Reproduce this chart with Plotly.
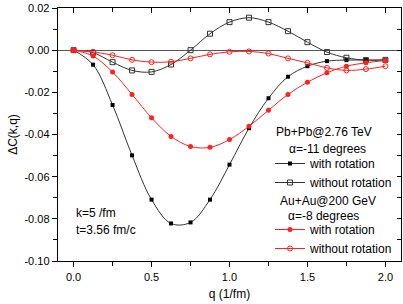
import plotly.graph_objects as go

q = [0, 0.125, 0.25, 0.375, 0.5, 0.625, 0.75, 0.875, 1.0, 1.125, 1.25, 1.375, 1.5, 1.625, 1.75, 1.875, 2.0]

pb_with = [0, -0.0069, -0.026, -0.0499, -0.0709, -0.0822, -0.0817, -0.0709, -0.0543, -0.037, -0.0228,
           -0.0126, -0.0076, -0.0052, -0.0047, -0.0047, -0.0047]
pb_without = [0, -0.0012, -0.0057, -0.0096, -0.0103, -0.0068, 0.0, 0.0078, 0.0133, 0.0154, 0.0133,
              0.0090, 0.0038, -0.0009, -0.0036, -0.0047, -0.0046]
au_with = [0, -0.0028, -0.0104, -0.021, -0.0321, -0.0409, -0.0457, -0.0461, -0.0424, -0.0361, -0.0285,
           -0.021, -0.0152, -0.0107, -0.0076, -0.006, -0.0049]
au_without = [0, -0.0008, -0.0024, -0.0046, -0.0057, -0.0055, -0.0039, -0.002, -0.0008, -0.0006, -0.0016,
              -0.0039, -0.006, -0.0084, -0.0096, -0.009, -0.0076]

x_tickvals = [0.0, 0.5, 1.0, 1.5, 2.0]
x_ticktext = ["0.0", "0.5", "1.0", "1.5", "2.0"]
y_tickvals = [0.02, 0.0, -0.02, -0.04, -0.06, -0.08, -0.10]
y_ticktext = ["0.02", "0.00", "-0.02", "-0.04", "-0.06", "-0.08", "-0.10"]

FONT = "Liberation Sans, Arial, sans-serif"
BLACK = "#333333"
RED = "#ff2020"

fig = go.Figure()

fig.add_trace(go.Scatter(
    x=q, y=pb_with, mode="lines+markers", name="with rotation", legend="legend",
    line=dict(color=BLACK, width=1, shape="spline", smoothing=1),
    marker=dict(symbol="square", size=4, color="black", line=dict(width=0))))
fig.add_trace(go.Scatter(
    x=q, y=pb_without, mode="lines+markers", name="without rotation", legend="legend",
    line=dict(color=BLACK, width=1, shape="spline", smoothing=1),
    marker=dict(symbol="square-open", size=5, color=BLACK, line=dict(width=1))))
fig.add_trace(go.Scatter(
    x=q, y=au_with, mode="lines+markers", name="with rotation", legend="legend2",
    line=dict(color=RED, width=1, shape="spline", smoothing=1),
    marker=dict(symbol="circle", size=5, color=RED, line=dict(width=0))))
fig.add_trace(go.Scatter(
    x=q, y=au_without, mode="lines+markers", name="without rotation", legend="legend2",
    line=dict(color=RED, width=1, shape="spline", smoothing=1),
    marker=dict(symbol="circle-open", size=5, color=RED, line=dict(width=1))))

# invisible trace to activate the mirrored (top/right) axes with inward ticks
fig.add_trace(go.Scatter(x=[q[0]], y=[pb_with[0]], xaxis="x2", yaxis="y2", mode="markers",
                         marker=dict(opacity=0), showlegend=False, hoverinfo="skip"))

axis_common = dict(showgrid=False, linecolor="black", linewidth=1.3, showline=True,
                   tickfont=dict(family=FONT, size=11, color="black"), tickcolor="black")

def px_to_paper_y(py):
    return 1 - (py - 8) / 253.0

def px_to_paper_x(px):
    return (px - 58) / 343.0

fig.update_layout(
    width=403, height=304, autosize=False,
    margin=dict(l=58, r=2, t=8, b=43),
    paper_bgcolor="white", plot_bgcolor="white",
    font=dict(family=FONT, size=12, color="black"),
    hovermode=False,
    xaxis=dict(range=[-0.1, 2.1], tickvals=x_tickvals, ticktext=x_ticktext, ticks="outside",
               ticklen=5, tickwidth=1, mirror=True, zeroline=False,
               minor=dict(dtick=0.25, tick0=0, ticks="outside", ticklen=4, tickcolor="black"),
               title=dict(text="q (1/fm)", font=dict(family=FONT, size=12), standoff=8),
               **axis_common),
    yaxis=dict(range=[-0.10, 0.02], tickvals=y_tickvals, ticktext=y_ticktext, ticks="outside",
               ticklen=5, tickwidth=1, mirror=True,
               zeroline=True, zerolinecolor="#555555", zerolinewidth=1,
               minor=dict(dtick=0.01, tick0=0, ticks="outside", ticklen=4, tickcolor="black"),
               title=dict(text="ΔC(k,q)", font=dict(family=FONT, size=12), standoff=4),
               **axis_common),
    xaxis2=dict(overlaying="x", side="top", matches="x", showticklabels=False, showline=False,
                showgrid=False, zeroline=False, ticks="inside", ticklen=5, tickcolor="black",
                tickvals=x_tickvals,
                minor=dict(dtick=0.25, tick0=0, ticks="inside", ticklen=4, tickcolor="black")),
    yaxis2=dict(overlaying="y", side="right", matches="y", showticklabels=False, showline=False,
                showgrid=False, zeroline=False, ticks="inside", ticklen=4, tickcolor="black",
                tickvals=y_tickvals,
                minor=dict(dtick=0.01, tick0=0, ticks="inside", ticklen=4, tickcolor="black")),
    legend=dict(x=px_to_paper_x(270), y=px_to_paper_y(149), xanchor="left", yanchor="top",
                bgcolor="rgba(0,0,0,0)", borderwidth=0, itemwidth=30,
                font=dict(family=FONT, size=12)),
    legend2=dict(x=px_to_paper_x(270), y=px_to_paper_y(215), xanchor="left", yanchor="top",
                 bgcolor="rgba(0,0,0,0)", borderwidth=0, itemwidth=30,
                 font=dict(family=FONT, size=12)),
    annotations=[
        dict(x=0, y=-0.0771, xref="x", yref="y", text="k=5 /fm", showarrow=False,
             xanchor="left", yanchor="middle", font=dict(family=FONT, size=12)),
        dict(x=0, y=-0.0852, xref="x", yref="y", text="t=3.56 fm/c", showarrow=False,
             xanchor="left", yanchor="middle", font=dict(family=FONT, size=12)),
        dict(x=px_to_paper_x(324), y=px_to_paper_y(132), xref="paper", yref="paper",
             text="Pb+Pb@2.76 TeV", showarrow=False, xanchor="center", yanchor="middle",
             font=dict(family=FONT, size=12)),
        dict(x=px_to_paper_x(327), y=px_to_paper_y(149), xref="paper", yref="paper",
             text="α=-11 degrees", showarrow=False, xanchor="center", yanchor="middle",
             font=dict(family=FONT, size=12)),
        dict(x=px_to_paper_x(328), y=px_to_paper_y(201), xref="paper", yref="paper",
             text="Au+Au@200 GeV", showarrow=False, xanchor="center", yanchor="middle",
             font=dict(family=FONT, size=12)),
        dict(x=px_to_paper_x(323), y=px_to_paper_y(216), xref="paper", yref="paper",
             text="α=-8 degrees", showarrow=False, xanchor="center", yanchor="middle",
             font=dict(family=FONT, size=12)),
    ],
    showlegend=True,
)

fig.write_html("out.html", config={"displayModeBar": False, "staticPlot": True},
               post_script="document.body.style.margin='0';")
